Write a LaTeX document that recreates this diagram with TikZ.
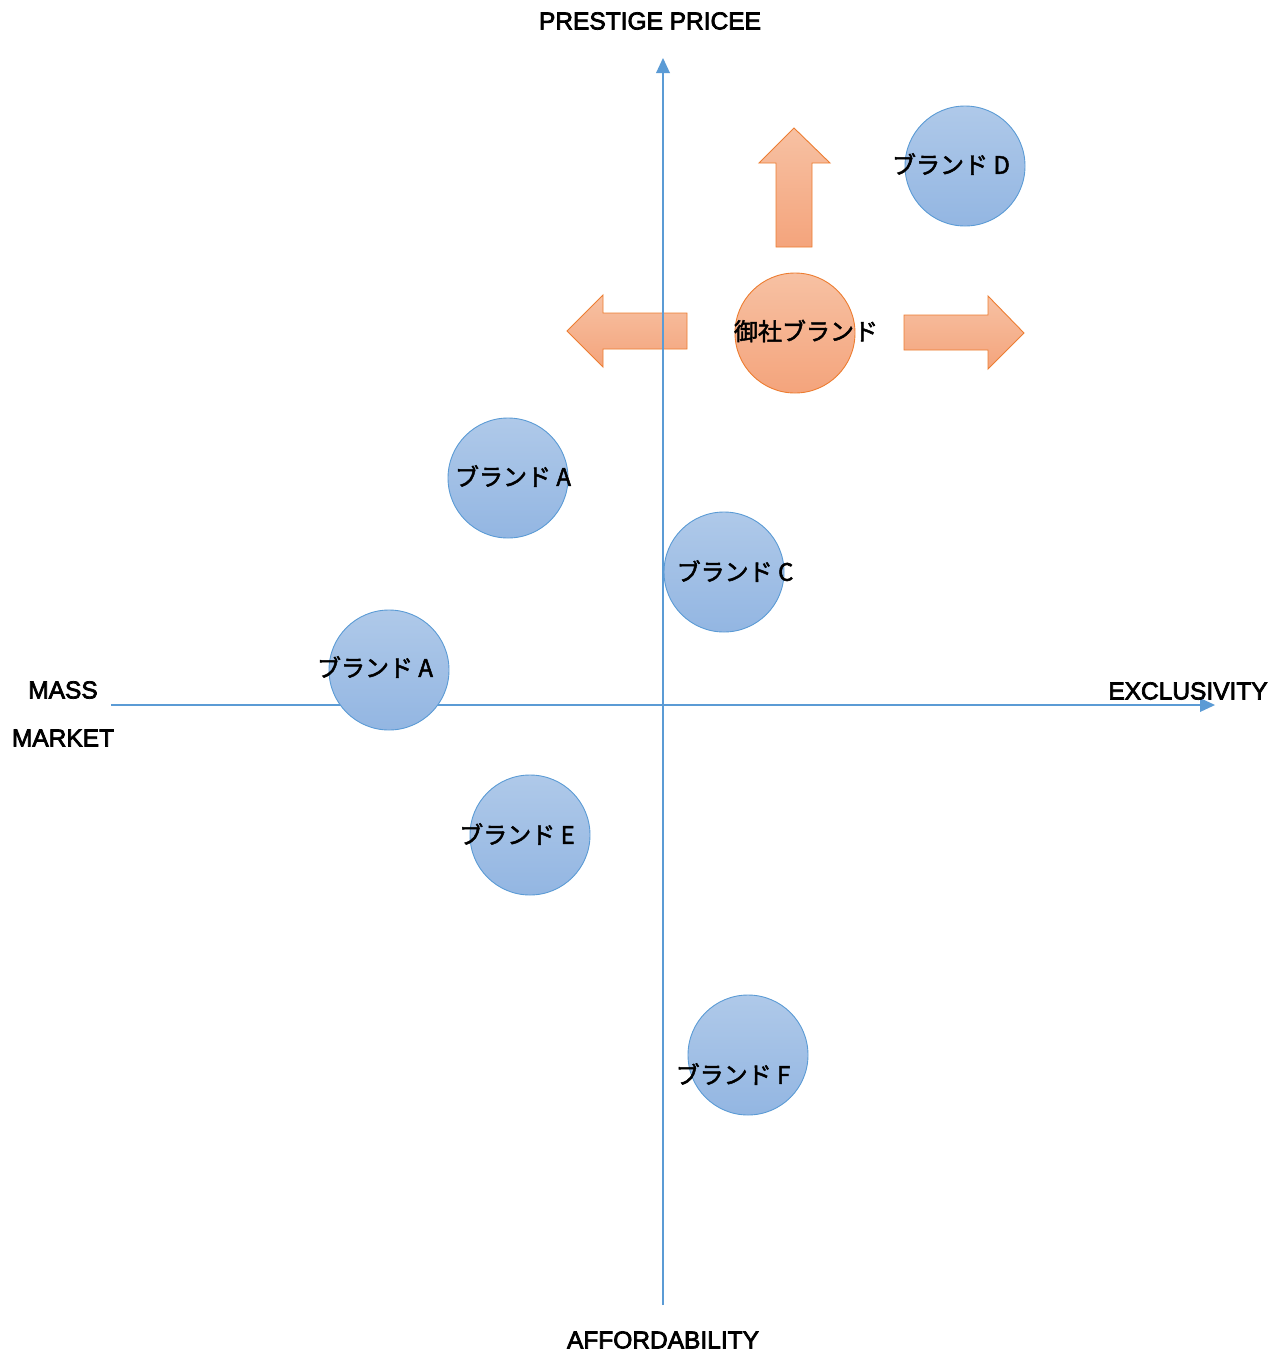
\documentclass[tikz,border=0pt]{standalone}
\usepackage{fontspec}
\setmainfont{Noto Sans CJK JP}
\newfontfamily\jpfont{Noto Sans CJK JP}[FakeBold=2]
\newfontfamily\latinfont{Liberation Sans}[FakeBold=3]
\begin{document}
\begin{tikzpicture}[x=1pt,y=-1pt,
  axis/.style={draw=axisblue,line width=1.2pt},
  brand/.style={circle,minimum size=120pt,inner sep=0pt,draw=axisblue,line width=0.9pt,top color=bluetop,bottom color=bluebot},
  ours/.style={circle,minimum size=120pt,inner sep=0pt,draw=orangeline,line width=0.9pt,top color=orangetop,bottom color=orangebot},
  fat/.style={draw=orangeline,line width=0.9pt,top color=orangetop,bottom color=orangebot},
  lab/.style={font=\jpfont\fontsize{24}{28}\selectfont},
  axlab/.style={font=\latinfont\fontsize{24.5}{28}\selectfont},
]
\definecolor{axisblue}{HTML}{5B9BD5}
\definecolor{bluetop}{HTML}{AFC9E9}
\definecolor{bluebot}{HTML}{93B6E2}
\definecolor{orangeline}{HTML}{ED7D31}
\definecolor{orangetop}{HTML}{F7C1A3}
\definecolor{orangebot}{HTML}{F4A47C}
\useasboundingbox (0,0) rectangle (1287,1353);
\fill[white] (0,0) rectangle (1287,1353);
% fat arrows
\shade[fat] (794,128) -- (830,163) -- (812,163) -- (812,247) -- (776,247) -- (776,163) -- (759,163) -- cycle;
\shade[fat] (567,331) -- (603,295) -- (603,313) -- (687,313) -- (687,349) -- (603,349) -- (603,367) -- cycle;
\shade[fat] (1024,333) -- (988,296) -- (988,315) -- (904,315) -- (904,350) -- (988,350) -- (988,369) -- cycle;
% axes
\coordinate (vb) at (663,1305);
\coordinate (vt) at (663,58);
\coordinate (hl) at (111,705);
\coordinate (hr) at (1215,705);
\draw[axis] (vb) -- (663,72);
\fill[axisblue] (vt) -- (670,73) -- (656,73) -- cycle;
\draw[axis] (hl) -- (1201,705);
\fill[axisblue] (hr) -- (1200,712) -- (1200,698) -- cycle;
% circles
\node[brand] (d) at (965,166) {};
\node[ours] (o) at (795,333) {};
\node[brand] (a1) at (508,478) {};
\node[brand] (c) at (724,572) {};
\node[brand] (a2) at (389,670) {};
\node[brand] (e) at (530,835) {};
\node[brand] (f) at (748,1055) {};
% texts
\node[lab] (td) at (951,164) {ブランド D};
\node[lab] (to) at (806,331) {御社ブランド};
\node[lab] (ta1) at (513,476) {ブランド A};
\node[lab] (tc) at (735,571) {ブランド C};
\node[lab] (ta2) at (375,667) {ブランド A};
\node[lab] (te) at (517,834) {ブランド E};
\node[lab] (tf) at (733,1074) {ブランド F};
% axis labels
\node[axlab] (top) at (650,21) {PRESTIGE PRICEE};
\node[axlab] (bot) at (663,1340) {AFFORDABILITY};
\node[axlab] (rt) at (1188,691) {EXCLUSIVITY};
\node[axlab] (m1) at (63,690) {MASS};
\node[axlab] (m2) at (63,738) {MARKET};
\end{tikzpicture}
\end{document}
